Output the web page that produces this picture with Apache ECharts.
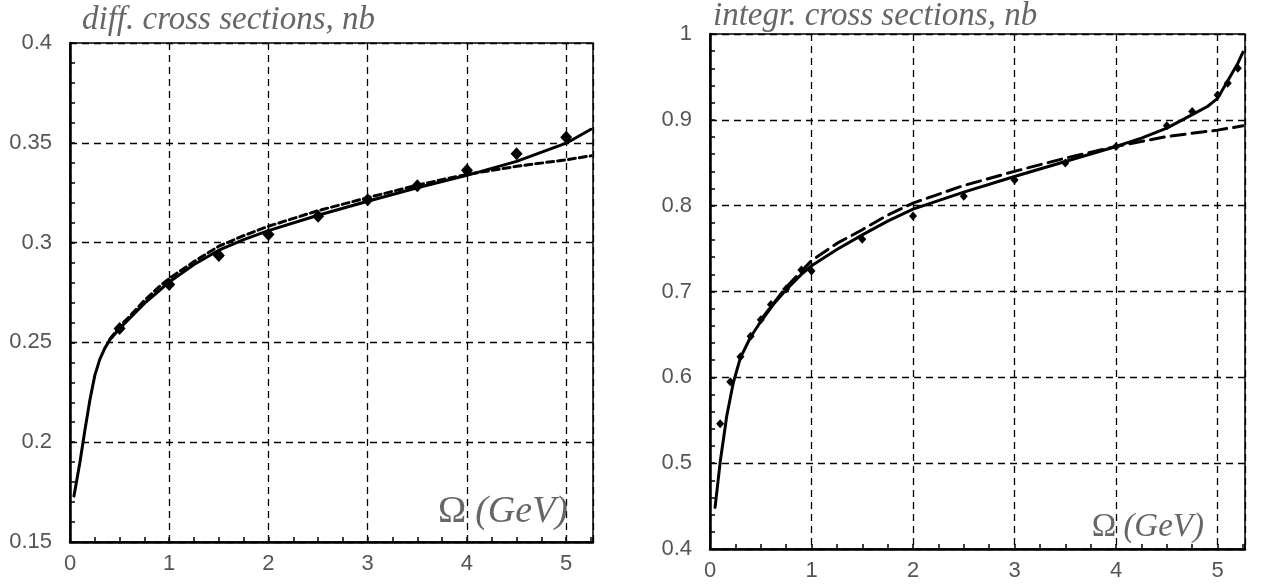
<!DOCTYPE html>
<html><head><meta charset="utf-8">
<script src="https://cdn.jsdelivr.net/npm/echarts@6/dist/echarts.min.js"></script>
<style>html,body{margin:0;padding:0;background:#fff}#c{width:1266px;height:585px}</style>
</head><body><div id="c"></div>
<script>
// ---- data ----
const diffSolidX = [0.04,0.1,0.15,0.2,0.25,0.3,0.35,0.4,0.5,0.6,0.75,0.9,1,1.25,1.5,1.75,2,2.5,3,3.5,4,4.5,5,5.25];
const diffSolidY = [0.173,0.19,0.206,0.221,0.2335,0.2415,0.247,0.2512,0.257,0.262,0.2695,0.276,0.2803,0.289,0.2962,0.3015,0.306,0.3137,0.3207,0.3275,0.3337,0.3407,0.3498,0.3568];
const diffDashX = [0.4,0.5,0.6,0.75,0.9,1,1.25,1.5,1.75,2,2.5,3,3.5,4,4.5,5,5.25];
const diffDashY = [0.2515,0.258,0.263,0.271,0.278,0.282,0.2905,0.2982,0.3035,0.3082,0.316,0.3225,0.3288,0.3342,0.3382,0.3415,0.3435];
const diffPtsX = [0.5,1,1.5,2,2.5,3,3.5,4,4.5,5];
const diffPtsY = [0.257,0.279,0.2935,0.304,0.3132,0.3215,0.3285,0.3362,0.3445,0.3528];

const intSolidX = [0.05,0.1,0.165,0.23,0.3,0.4,0.5,0.625,0.75,0.9,1,1.25,1.5,1.75,2,2.5,3,3.5,4,4.25,4.5,4.75,4.9,5,5.1,5.2,5.25];
const intSolidY = [0.4485,0.501,0.555,0.594,0.623,0.647,0.665,0.685,0.702,0.72,0.73,0.749,0.766,0.782,0.796,0.8157,0.834,0.8515,0.869,0.8787,0.8903,0.906,0.9155,0.925,0.9455,0.966,0.979];
const intDashX = [0.5,0.75,1,1.25,1.5,1.75,2,2.5,3,3.5,4,4.5,5,5.25];
const intDashY = [0.667,0.705,0.736,0.756,0.772,0.789,0.803,0.8235,0.840,0.8554,0.869,0.8806,0.888,0.893];
const intPtsX = [0.1,0.2,0.3,0.4,0.5,0.6,0.75,0.9,1.0,1.5,2,2.5,3,3.5,4,4.5,4.75,5,5.1,5.2];
const intPtsY = [0.546,0.595,0.624,0.648,0.667,0.685,0.703,0.725,0.724,0.761,0.788,0.811,0.830,0.8496,0.869,0.893,0.9097,0.929,0.9427,0.960];

const xTickLabels = ['0','1','2','3','4','5'];
const titles = ['diff. cross sections, nb', 'integr. cross sections, nb'];

const zip = (xs, ys) => xs.map((x, i) => [x, ys[i]]);

function xAxisCfg(gi) {
  return {
    type: 'value', gridIndex: gi, min: 0, max: 5.27, interval: 1,
    axisLine: { show: true, onZero: false, lineStyle: { color: '#000', width: 2.5 } },
    axisTick: { show: true, inside: true, length: 5, lineStyle: { color: '#000', width: 1.5 } },
    minorTick: { show: true, splitNumber: 4, length: 5, lineStyle: { color: '#000', width: 1.5 } },
    splitLine: { show: true, lineStyle: { color: '#000', type: [7, 5], width: 1.3 } },
    axisLabel: {
      color: '#555', fontSize: 22, fontFamily: 'Liberation Sans', margin: 11,
      showMaxLabel: false,
      formatter: v => (Number.isInteger(v) && v >= 0 && v <= 5) ? xTickLabels[v] : ''
    }
  };
}
function yAxisCfg(gi, min, max, interval) {
  return {
    type: 'value', gridIndex: gi, min: min, max: max, interval: interval,
    axisLine: { show: true, onZero: false, lineStyle: { color: '#000', width: 2.5 } },
    axisTick: { show: true, inside: true, length: 5, lineStyle: { color: '#000', width: 1.5 } },
    minorTick: { show: true, splitNumber: 5, length: 5, lineStyle: { color: '#000', width: 1.5 } },
    splitLine: { show: true, lineStyle: { color: '#000', type: [7, 5], width: 1.3 } },
    axisLabel: { color: '#555', fontSize: 22, fontFamily: 'Liberation Sans', margin: 18 }
  };
}
function lineSeries(gi, data, dashed, dashPat) {
  return {
    type: 'line', xAxisIndex: gi, yAxisIndex: gi, data: data,
    showSymbol: false, smooth: false, z: 5,
    lineStyle: { color: '#000', width: 3, type: dashed ? dashPat : 'solid', cap: 'round', join: 'round' },
    silent: true
  };
}
function ptsSeries(gi, data, size) {
  return {
    type: 'scatter', xAxisIndex: gi, yAxisIndex: gi, data: data,
    symbol: 'diamond', symbolSize: size, z: 6,
    itemStyle: { color: '#000', opacity: 1 }, silent: true
  };
}

const chart = echarts.init(document.getElementById('c'), null, { renderer: 'canvas' });
chart.setOption({
  animation: false,
  backgroundColor: '#fff',
  title: [
    { text: titles[0], left: 82, top: 4, padding: 0,
      textStyle: { fontFamily: 'Liberation Serif', fontStyle: 'italic', fontWeight: 'normal', fontSize: 33, color: '#666' } },
    { text: titles[1], left: 713, top: 0, padding: 0,
      textStyle: { fontFamily: 'Liberation Serif', fontStyle: 'italic', fontWeight: 'normal', fontSize: 33, color: '#666' } }
  ],
  grid: [
    { left: 70, top: 43, width: 523, height: 499, show: true, borderColor: '#000', borderWidth: 1.5, backgroundColor: 'transparent' },
    { left: 710, top: 34, width: 535, height: 515, show: true, borderColor: '#000', borderWidth: 1.5, backgroundColor: 'transparent' }
  ],
  xAxis: [xAxisCfg(0), xAxisCfg(1)],
  yAxis: [yAxisCfg(0, 0.15, 0.4, 0.05), yAxisCfg(1, 0.4, 1, 0.1)],
  graphic: [
    { type: 'text', right: 1266 - 568, top: 493, z: 10, silent: true,
      style: { text: '{a|Ω}{b|(GeV)}', fill: '#666',
        rich: { a: { fontFamily: 'Liberation Serif', fontSize: 38, fill: '#666', padding: [0, 9, 0, 0] },
                b: { fontFamily: 'Liberation Serif', fontStyle: 'italic', fontSize: 38, fill: '#666' } } } },
    { type: 'text', right: 1266 - 1204, top: 511, z: 10, silent: true,
      style: { text: '{a|Ω}{b|(GeV)}', fill: '#666',
        rich: { a: { fontFamily: 'Liberation Serif', fontSize: 33, fill: '#666', padding: [0, 7, 0, 0] },
                b: { fontFamily: 'Liberation Serif', fontStyle: 'italic', fontSize: 33, fill: '#666' } } } }
  ],
  series: [
    lineSeries(0, zip(diffSolidX, diffSolidY), false),
    lineSeries(0, zip(diffDashX, diffDashY), true, [7, 4]),
    ptsSeries(0, zip(diffPtsX, diffPtsY), [12, 13]),
    lineSeries(1, zip(intSolidX, intSolidY), false),
    lineSeries(1, zip(intDashX, intDashY), true, [14, 7]),
    ptsSeries(1, zip(intPtsX, intPtsY), [8, 9])
  ]
});
</script>
</body></html>
